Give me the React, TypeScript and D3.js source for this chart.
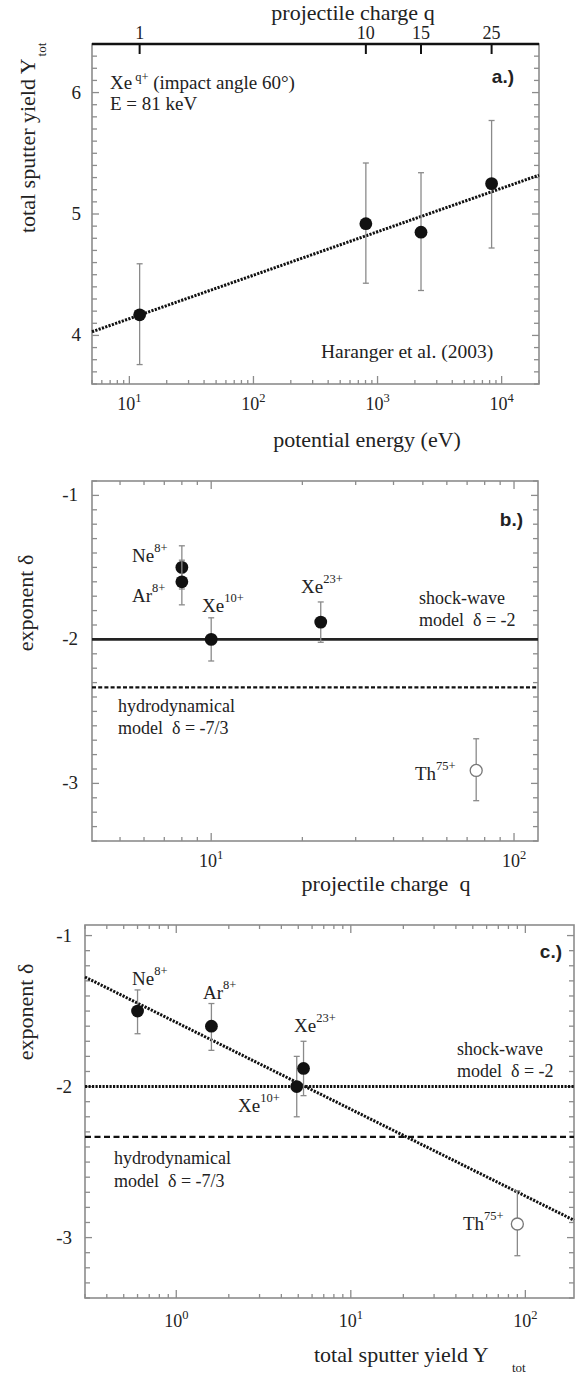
import React from "react";
import * as d3 from "d3";

const W = 576;
const H = 1376;

// ---------- Panel a data ----------
const energyEV = [12.1, 805, 2240, 8300];
const yieldTot = [4.17, 4.92, 4.85, 5.25];
const yieldLo = [3.76, 4.43, 4.37, 4.72];
const yieldHi = [4.59, 5.42, 5.34, 5.77];
const chargeTickLabels = ["1", "10", "15", "25"];
const chargeTickEnergy = [12.1, 805, 2240, 8300];
const fitAIntercept = 3.78;
const fitASlope = 0.358;
const yTickLabelsA = [4, 5, 6];

// ---------- Panels b, c data ----------
const ionNames = ["Ne", "Ar", "Xe", "Xe", "Th"];
const ionSup = ["8+", "8+", "10+", "23+", "75+"];
const ionCharge = [8, 8, 10, 23, 75];
const deltaB = [-1.5, -1.6, -2.0, -1.88, -2.91];
const deltaLoB = [-1.65, -1.76, -2.15, -2.02, -3.12];
const deltaHiB = [-1.35, -1.45, -1.85, -1.74, -2.69];
const ionYield = [0.6, 1.59, 4.9, 5.36, 90];
const deltaC = [-1.5, -1.6, -2.0, -1.88, -2.91];
const deltaLoC = [-1.65, -1.76, -2.2, -2.06, -3.12];
const deltaHiC = [-1.36, -1.45, -1.8, -1.7, -2.69];
const filledMarker = [true, true, true, true, false];
const shockWaveDelta = -2;
const hydroDelta = -7 / 3;
const fitCIntercept = -1.575;
const fitCSlope = -0.575;
const yTickLabelsBC = [-1, -2, -3];

const serif = "Liberation Serif, Times New Roman, serif";
const sans = "Liberation Sans, Arial, sans-serif";
const frameColor = "#8c8c8c";
const errColor = "#8a8a8a";

function logTicks(domain: number[]) {
  const out: { v: number; major: boolean }[] = [];
  const k0 = Math.floor(Math.log10(domain[0]));
  const k1 = Math.ceil(Math.log10(domain[1]));
  for (let k = k0; k <= k1; k++) {
    for (let m = 1; m <= 9; m++) {
      const v = m * Math.pow(10, k);
      if (v >= domain[0] * 0.999 && v <= domain[1] * 1.001) out.push({ v, major: m === 1 });
    }
  }
  return out;
}

function linTicks(domain: number[]) {
  const out: { v: number; major: boolean }[] = [];
  const lo = Math.min(domain[0], domain[1]);
  const hi = Math.max(domain[0], domain[1]);
  for (let i = Math.ceil(lo * 10 - 1e-6); i <= Math.floor(hi * 10 + 1e-6); i++) {
    out.push({ v: i / 10, major: i % 10 === 0 });
  }
  return out;
}

function Frame({ xs, ys, topTicks }: { xs: any; ys: any; topTicks: boolean }) {
  const [l, r] = xs.range();
  const [b, t] = ys.range();
  const lt = logTicks(xs.domain());
  const yt = linTicks(ys.domain());
  return (
    <g>
      <rect x={l} y={t} width={r - l} height={b - t} fill="none" stroke={frameColor} strokeWidth={1.6} />
      {lt.map((d, i) => {
        const x = xs(d.v);
        const len = d.major ? 8 : 4;
        return (
          <g key={"lx" + i}>
            <line x1={x} x2={x} y1={b} y2={b - len} stroke={frameColor} strokeWidth={1.3} />
            {topTicks && <line x1={x} x2={x} y1={t} y2={t + len} stroke={frameColor} strokeWidth={1.3} />}
          </g>
        );
      })}
      {yt.map((d, i) => {
        const y = ys(d.v);
        const len = d.major ? 7 : 5;
        return (
          <g key={"ly" + i}>
            <line x1={l} x2={l + len} y1={y} y2={y} stroke={frameColor} strokeWidth={1.3} />
            <line x1={r} x2={r - len} y1={y} y2={y} stroke={frameColor} strokeWidth={1.3} />
          </g>
        );
      })}
    </g>
  );
}

function DecadeLabels({ xs, y }: { xs: any; y: number }) {
  const dom = xs.domain();
  const ks: number[] = [];
  for (let k = Math.ceil(Math.log10(dom[0])); k <= Math.floor(Math.log10(dom[1])); k++) ks.push(k);
  return (
    <g>
      {ks.map((k) => (
        <text key={k} x={xs(Math.pow(10, k))} y={y} textAnchor="middle" style={{ fontFamily: serif }} fontSize={18} fill="#222">
          <tspan>10</tspan>
          <tspan dy={-8} fontSize={12.5}>{k}</tspan>
        </text>
      ))}
    </g>
  );
}

function YLabels({ ys, vals, x }: { ys: any; vals: number[]; x: number }) {
  return (
    <g>
      {vals.map((v) => (
        <text key={v} x={x} y={ys(v) + 6} textAnchor="end" style={{ fontFamily: serif }} fontSize={19} fill="#222">
          {String(v)}
        </text>
      ))}
    </g>
  );
}

function Markers({ xs, ys, xv, yv, lo, hi, open }: any) {
  return (
    <g>
      {xv.map((xval: number, i: number) => {
        const x = xs(xval);
        return (
          <g key={i}>
            <line x1={x} x2={x} y1={ys(lo[i])} y2={ys(hi[i])} stroke={errColor} strokeWidth={1.3} />
            <line x1={x - 3} x2={x + 3} y1={ys(lo[i])} y2={ys(lo[i])} stroke={errColor} strokeWidth={1.3} />
            <line x1={x - 3} x2={x + 3} y1={ys(hi[i])} y2={ys(hi[i])} stroke={errColor} strokeWidth={1.3} />
            {open && open[i] === false ? (
              <circle cx={x} cy={ys(yv[i])} r={6} fill="#fff" stroke="#777" strokeWidth={1.3} />
            ) : (
              <circle cx={x} cy={ys(yv[i])} r={6.4} fill="#111" />
            )}
          </g>
        );
      })}
    </g>
  );
}

function Ion({ i, x, y }: { i: number; x: number; y: number }) {
  return (
    <text x={x} y={y} style={{ fontFamily: serif }} fontSize={19} fill="#222">
      <tspan>{ionNames[i]}</tspan>
      <tspan dy={-10} fontSize={12.5}>{ionSup[i]}</tspan>
    </text>
  );
}

function T(props: any) {
  const { family, ...rest } = props;
  return <text {...rest} style={{ fontFamily: family || serif, whiteSpace: "pre" }} fill="#222" />;
}

export default function App() {
  // Panel a
  const xA = d3.scaleLog().domain([5, 2e4]).range([92, 539]);
  const yA = d3.scaleLinear().domain([3.6, 6.4]).range([384, 44]);
  const fitALine = d3
    .line<number>()
    .x((e) => xA(e))
    .y((e) => yA(fitAIntercept + fitASlope * Math.log10(e)))(xA.domain());

  // Panel b
  const xB = d3.scaleLog().domain([4.04, 120]).range([92, 538]);
  const yB = d3.scaleLinear().domain([-3.4, -0.9]).range([841, 481]);

  // Panel c
  const xC = d3.scaleLog().domain([0.3, 190]).range([85, 574]);
  const yC = d3.scaleLinear().domain([-3.4, -0.93]).range([1298, 925]);
  const fitCLine = d3
    .line<number>()
    .x((v) => xC(v))
    .y((v) => yC(fitCIntercept + fitCSlope * Math.log10(v)))(xC.domain());

  const dotted = "2.2 1.3";

  return (
    <svg width={W} height={H} style={{ position: "absolute", left: 0, top: 0, background: "#fff" }}>
      <rect x={0} y={0} width={W} height={H} fill="#fff" />

      {/* ================= Panel a ================= */}
      <Frame xs={xA} ys={yA} topTicks={false} />
      <line x1={92} x2={539} y1={44} y2={44} stroke="#111" strokeWidth={2.6} />
      {chargeTickEnergy.map((e, i) => (
        <g key={"ct" + i}>
          <line x1={xA(e)} x2={xA(e)} y1={43} y2={54} stroke="#111" strokeWidth={2} />
          <T x={xA(e)} y={39} textAnchor="middle" fontSize={18}>
            {chargeTickLabels[i]}
          </T>
        </g>
      ))}
      <T x={353} y={20} textAnchor="middle" fontSize={22}>
        projectile charge q
      </T>
      <path d={fitALine || ""} fill="none" stroke="#111" strokeWidth={3} strokeDasharray={dotted} />
      <Markers xs={xA} ys={yA} xv={energyEV} yv={yieldTot} lo={yieldLo} hi={yieldHi} />
      <T x={110} y={89} fontSize={19}>
        <tspan>Xe</tspan>
        <tspan dx={3} dy={-8} fontSize={12.5}>q+</tspan>
        <tspan dy={8}> (impact angle 60°)</tspan>
      </T>
      <T x={110} y={110} fontSize={19}>
        E = 81 keV
      </T>
      <T x={514} y={83} textAnchor="end" family={sans} fontWeight="bold" fontSize={19}>
        a.)
      </T>
      <T x={321} y={358} fontSize={19.5}>
        Haranger et al. (2003)
      </T>
      <YLabels ys={yA} vals={yTickLabelsA} x={81} />
      <DecadeLabels xs={xA} y={410} />
      <T x={367} y={447} textAnchor="middle" fontSize={22}>
        potential energy (eV)
      </T>
      <T transform="translate(35,233) rotate(-90)" fontSize={22}>
        <tspan>total sputter yield Y</tspan>
        <tspan dx={2} dy={11} fontSize={13}>tot</tspan>
      </T>

      {/* ================= Panel b ================= */}
      <Frame xs={xB} ys={yB} topTicks={true} />
      <line x1={92} x2={538} y1={yB(shockWaveDelta)} y2={yB(shockWaveDelta)} stroke="#222" strokeWidth={2.6} />
      <line x1={92} x2={538} y1={yB(hydroDelta)} y2={yB(hydroDelta)} stroke="#111" strokeWidth={2.4} strokeDasharray="4 2.2" />
      <Markers xs={xB} ys={yB} xv={ionCharge} yv={deltaB} lo={deltaLoB} hi={deltaHiB} open={filledMarker} />
      <Ion i={0} x={132} y={562} />
      <Ion i={1} x={132} y={602} />
      <Ion i={2} x={202} y={612} />
      <Ion i={3} x={301} y={593} />
      <Ion i={4} x={415} y={780} />
      <T x={419} y={604} fontSize={18}>shock-wave</T>
      <T x={419} y={626} fontSize={18}>model  δ = -2</T>
      <T x={118} y={712} fontSize={18}>hydrodynamical</T>
      <T x={118} y={734} fontSize={18}>model  δ = -7/3</T>
      <T x={523} y={526} textAnchor="end" family={sans} fontWeight="bold" fontSize={19}>
        b.)
      </T>
      <YLabels ys={yB} vals={yTickLabelsBC} x={78} />
      <DecadeLabels xs={xB} y={867} />
      <T x={386} y={891} textAnchor="middle" fontSize={22}>
        projectile charge  q
      </T>
      <T transform="translate(33,603) rotate(-90)" textAnchor="middle" fontSize={22}>
        exponent δ
      </T>

      {/* ================= Panel c ================= */}
      <Frame xs={xC} ys={yC} topTicks={true} />
      <line x1={85} x2={574} y1={yC(shockWaveDelta)} y2={yC(shockWaveDelta)} stroke="#111" strokeWidth={3} strokeDasharray={dotted} />
      <line x1={85} x2={574} y1={yC(hydroDelta)} y2={yC(hydroDelta)} stroke="#111" strokeWidth={2.4} strokeDasharray="6 3.5" />
      <path d={fitCLine || ""} fill="none" stroke="#111" strokeWidth={3} strokeDasharray={dotted} />
      <Markers xs={xC} ys={yC} xv={ionYield} yv={deltaC} lo={deltaLoC} hi={deltaHiC} open={filledMarker} />
      <Ion i={0} x={132} y={985} />
      <Ion i={1} x={203} y={999} />
      <Ion i={3} x={294} y={1032} />
      <Ion i={2} x={238} y={1112} />
      <Ion i={4} x={463} y={1230} />
      <T x={457} y={1055} fontSize={18}>shock-wave</T>
      <T x={457} y={1077} fontSize={18}>model  δ = -2</T>
      <T x={114} y={1164} fontSize={18}>hydrodynamical</T>
      <T x={114} y={1187} fontSize={18}>model  δ = -7/3</T>
      <T x={562} y={958} textAnchor="end" family={sans} fontWeight="bold" fontSize={19}>
        c.)
      </T>
      <YLabels ys={yC} vals={yTickLabelsBC} x={72} />
      <DecadeLabels xs={xC} y={1327} />
      <T x={314} y={1362} fontSize={22}>
        total sputter yield Y
      </T>
      <T x={512} y={1372} fontSize={13}>
        tot
      </T>
      <T transform="translate(33,1012) rotate(-90)" textAnchor="middle" fontSize={22}>
        exponent δ
      </T>
    </svg>
  );
}
